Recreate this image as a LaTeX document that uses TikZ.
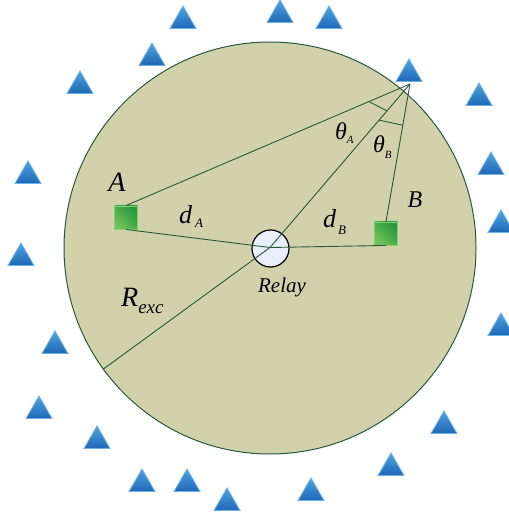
\documentclass[tikz,border=0pt]{standalone}
\usepackage{fontspec}
\setmainfont{Liberation Serif}
\usetikzlibrary{calc,shapes.geometric}
\definecolor{diskfill}{RGB}{209,210,172}
\definecolor{lineg}{RGB}{42,88,58}
\definecolor{triTop}{RGB}{78,162,222}
\definecolor{triBot}{RGB}{30,104,182}
\definecolor{triEdge}{RGB}{110,178,236}
\definecolor{sqLight}{RGB}{110,196,90}
\definecolor{sqDark}{RGB}{40,150,58}
\definecolor{sqEdge}{RGB}{130,210,110}
\definecolor{relayfill}{RGB}{232,238,250}
\newcommand{\fs}[1]{\fontsize{#1}{#1}\selectfont\itshape}
\begin{document}
\begin{tikzpicture}[x=1pt,y=-1pt,
  bs/.style={regular polygon, regular polygon sides=3, minimum size=30pt, inner sep=0pt,
    top color=triTop, bottom color=triBot, draw=triEdge, line width=0.9pt},
  usr/.style={rectangle, minimum size=23pt, inner sep=0pt, left color=sqLight, right color=sqDark,
    shading angle=135, draw=sqEdge, line width=0.9pt},
  link/.style={draw=lineg, line width=0.9pt},
  lbl/.style={inner sep=0pt, text=black}]
\useasboundingbox (0,0) rectangle (508,518);
\node[circle, minimum size=412pt, inner sep=0pt, fill=diskfill, draw=lineg, line width=1pt] (cell) at (270,248) {};
% base stations
\foreach \n/\x/\y in {t1/183/6, t2/280/0, t3/329/6, t4/152/43, t5/80/71, t6/409/59,
  t7/479/83, t8/28/161, t9/21/243, t10/55/331, t11/39/396, t12/97/426, t13/142/469,
  t14/187/469, t15/227/488, t16/311/478, t17/391/453, t18/444/411, t19/491/152,
  t20/501/210, t21/501/313}
  \node[bs] (\n) at (\x,\y+15) {};
\coordinate (P) at (410,84);
% users
\node[usr] (A) at (126,217.5) {};
\node[usr] (B) at (386,233.5) {};
% relay
\node[circle, minimum size=37pt, inner sep=0pt, fill=relayfill, draw=black, line width=1.2pt] (relay) at (270.5,248.5) {};
\coordinate (rc) at (270,247.5);
% links
\draw[link] (A.north) -- (P);
\draw[link] (B.north) -- (P);
\draw[link] (rc) -- (P);
\draw[link] (A.south) -- (rc);
\draw[link] (rc) -- (B.south);
\draw[link] (rc) -- (cell.216);
% angle marks
\draw[link] ($(P)!0.145!(A.north)$) -- ($(P)!0.164!(rc)$);
\draw[link] ($(P)!0.221!(rc)$) -- ($(P)!0.30!(B.north)$);
% labels
\node[lbl, anchor=base] (lA) at (117,192) {\fs{28}A};
\node[lbl, anchor=base] (lB) at (415,208) {\fs{24}B};
\node[lbl, anchor=base west] (ldA) at (179,223) {\fs{26}d\hspace{3pt}\raisebox{-5pt}{\fs{13}A}};
\node[lbl, anchor=base west] (ldB) at (323,227) {\fs{26}d\hspace{2pt}\raisebox{-7pt}{\fs{13}B}};
\node[lbl, anchor=base west] (ltA) at (335,140) {\fs{24}θ\raisebox{-4pt}{\fs{11}A}};
\node[lbl, anchor=base west] (ltB) at (373,153) {\fs{24}θ\raisebox{-6pt}{\fs{11}B}};
\node[lbl, anchor=base west] (lR) at (121,306) {\fs{28}R\raisebox{-7pt}{\fs{19}exc}};
\node[lbl, anchor=base] (lrelay) at (282,292) {\fs{21}Relay};
\end{tikzpicture}
\end{document}
